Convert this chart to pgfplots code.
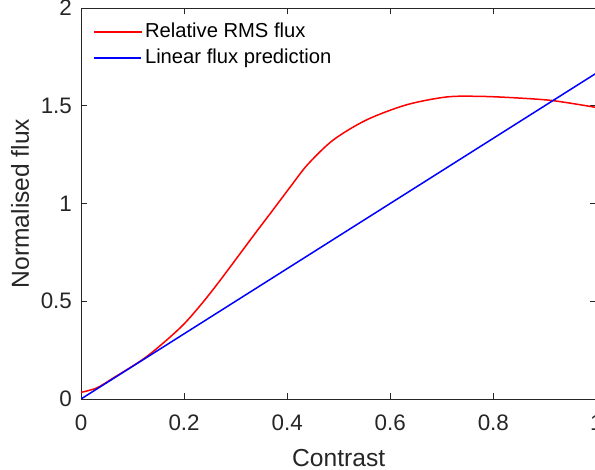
\documentclass[border=0pt]{standalone}
\usepackage{pgfplots}
\pgfplotsset{compat=1.18}
\usepackage{fontspec}
\setmainfont{Liberation Sans}
\usetikzlibrary{calc}
\definecolor{axgray}{RGB}{38,38,38}
\begin{document}
\begin{tikzpicture}
\begin{axis}[
  scale only axis,
  width=257.7pt, height=195.5pt,
  xmin=0, xmax=1, ymin=0, ymax=2,
  xtick={0,0.2,0.4,0.6,0.8,1},
  ytick={0,0.5,1,1.5,2},
  xticklabels={0,0.2,0.4,0.6,0.8,1},
  yticklabels={0,0.5,1,1.5,2},
  tick align=inside,
  major tick length=3pt,
  axis line style={axgray, line width=0.4pt},
  tick style={axgray, line width=0.4pt},
  ticklabel style={font=\fontsize{11.2}{13}\selectfont, text=axgray},
  /pgf/number format/assume math mode=true,
  xticklabel style={yshift=-4.5pt},
  yticklabel style={xshift=-1pt},
  xlabel={Contrast},
  ylabel={Normalised flux},
  label style={font=\fontsize{12.3}{14}\selectfont, text=axgray},
  xlabel style={yshift=-2.5pt},
  ylabel style={yshift=-1pt},
  legend style={draw=none, fill=none, at={(0,1)}, anchor=north west,
    xshift=6pt, yshift=-5.5pt,
    font=\fontsize{10.1}{12}\selectfont, row sep=0.6pt, inner sep=0pt,
    nodes={inner sep=1.5pt, text height=7.5pt, text depth=2pt}},
  legend cell align=left,
  legend image post style={xscale=1.38},
]
\addplot[red, line width=0.75pt, smooth] coordinates {
(0,0.034) (0.03,0.056) (0.063,0.108) (0.1275,0.217) (0.192,0.363) (0.2313,0.478)
(0.2697,0.606) (0.3345,0.835) (0.3733,0.97) (0.4055,1.083) (0.44,1.200)
(0.4895,1.325) (0.5543,1.428) (0.6319,1.505) (0.7095,1.545) (0.774,1.548)
(0.839,1.541) (0.913,1.527) (0.994,1.494) (1.0,1.49)
};
\addlegendentry{Relative RMS flux}
\addplot[blue, line width=0.75pt] coordinates {(0,0) (1,1.667)};
\addlegendentry{Linear flux prediction}
\end{axis}
\pgfresetboundingbox
\path[use as bounding box] ($(current axis.south west)+(-40.5pt,-35.5pt)$) rectangle ($(current axis.south west)+(257pt,199.5pt)$);
\end{tikzpicture}
\end{document}
